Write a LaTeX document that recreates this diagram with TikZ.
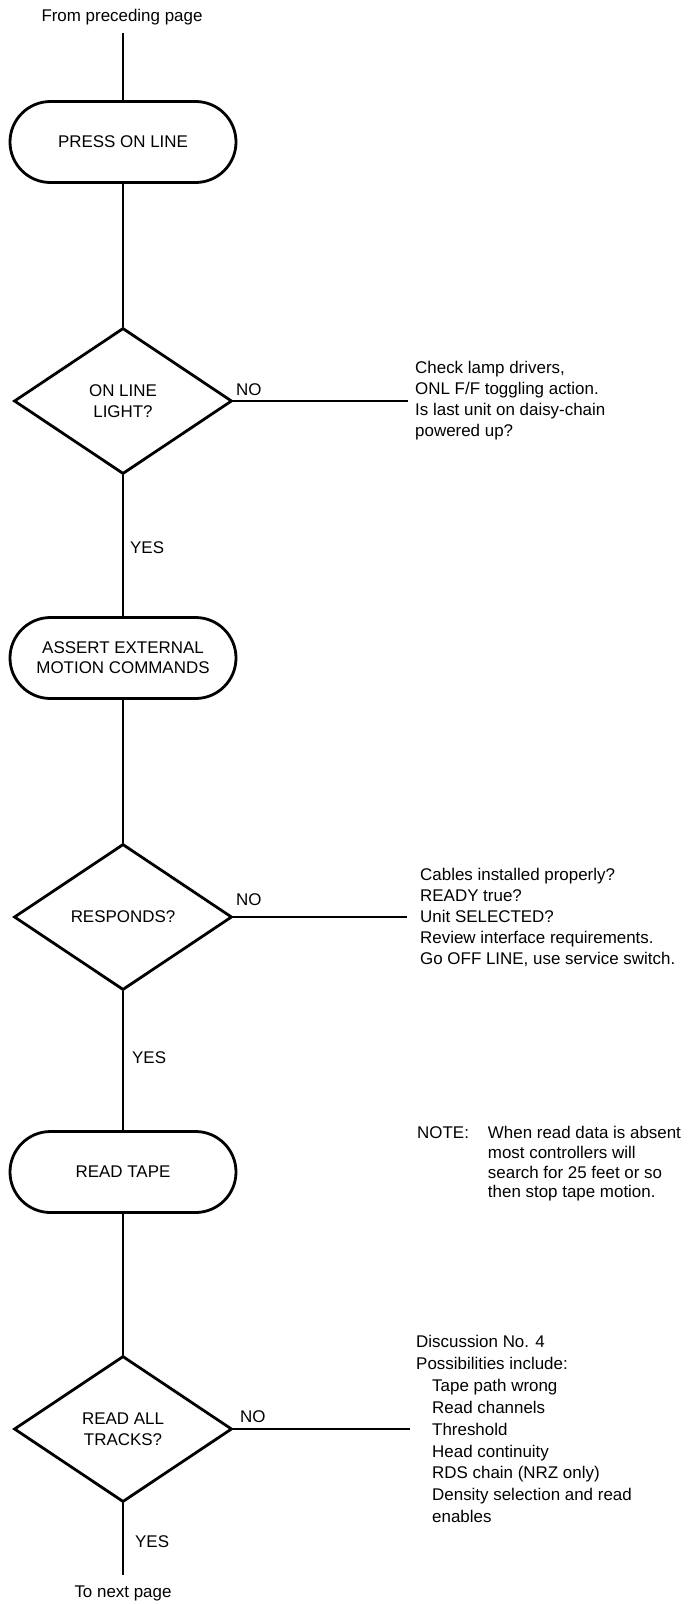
\documentclass[tikz,border=0pt]{standalone}
\usepackage{fontspec}
\setmainfont{Liberation Sans}
\usetikzlibrary{shapes.geometric,shapes.misc}
\begin{document}
\begin{tikzpicture}[x=1bp,y=-1bp,
  every node/.style={font=\fontsize{17}{21}\selectfont},
  flow/.style={line width=2.8bp},
  term/.style={rounded rectangle, draw, line width=2.8bp, minimum width=226bp,
    minimum height=81bp, inner sep=0pt, align=center},
  decision/.style={diamond, draw, line width=2.8bp, minimum width=218bp,
    minimum height=146bp, inner sep=0pt, align=center},
  remark/.style={anchor=north west, align=left, inner sep=0pt},
  lbl/.style={inner sep=0pt}
]
\useasboundingbox (0,0) rectangle (691,1604);

% main column
\node[lbl] (from) at (122,17) {From preceding page};
\coordinate (top) at (123,33);
\node[term] (t1) at (123,142) {PRESS ON LINE};
\node[decision] (d1) at (123,401) {ON LINE\\LIGHT?};
\node[term, font=\fontsize{17}{20}\selectfont] (t2) at (123,658) {ASSERT EXTERNAL\\MOTION COMMANDS};
\node[decision] (d2) at (123,917) {RESPONDS?};
\node[term] (t3) at (123,1172) {READ TAPE};
\node[decision] (d3) at (123,1429) {READ ALL\\TRACKS?};
\coordinate (bottom) at (123,1575);
\node[lbl] (next) at (123,1593) {To next page};

\draw[flow] (top) -- (t1.north);
\draw[flow] (t1.south) -- (d1.north);
\draw[flow] (d1.south) -- (t2.north);
\draw[flow] (t2.south) -- (d2.north);
\draw[flow] (d2.south) -- (t3.north);
\draw[flow] (t3.south) -- (d3.north);
\draw[flow] (d3.south) -- (bottom);

% branch labels
\node[lbl, anchor=west] (no1) at (236,390) {NO};
\node[lbl, anchor=west] (no2) at (236,900) {NO};
\node[lbl, anchor=west] (no3) at (240,1417) {NO};
\node[lbl, anchor=west] (yes1) at (130,548) {YES};
\node[lbl, anchor=west] (yes2) at (132,1058) {YES};
\node[lbl, anchor=west] (yes3) at (135,1542) {YES};

% NO branches
\coordinate (e1) at (408,401);
\coordinate (e2) at (407,917);
\coordinate (e3) at (410,1429);
\draw[flow] (d1.east) -- (e1);
\draw[flow] (d2.east) -- (e2);
\draw[flow] (d3.east) -- (e3);

% side remarks
\node[remark] (r1) at (415,361) {Check lamp drivers,\\ONL F/F toggling action.\\Is last unit on daisy-chain\\powered up?};
\node[remark] (r2) at (420,868) {Cables installed properly?\\READY true?\\Unit SELECTED?\\Review interface requirements.\\Go OFF LINE, use service switch.};
\node[remark, font=\fontsize{17}{20}\selectfont] (r3) at (417,1124) {\begin{tabular}{@{}l@{\hspace{19bp}}l@{}}NOTE: & When read data is absent\\ & most controllers will\\ & search for 25 feet or so\\ & then stop tape motion.\end{tabular}};
\node[remark, font=\fontsize{17}{22}\selectfont] (r4) at (416,1335) {Discussion No. 4\\Possibilities include:\\\hspace*{16bp}Tape path wrong\\\hspace*{16bp}Read channels\\\hspace*{16bp}Threshold\\\hspace*{16bp}Head continuity\\\hspace*{16bp}RDS chain (NRZ only)\\\hspace*{16bp}Density selection and read\\\hspace*{16bp}enables};
\end{tikzpicture}
\end{document}
